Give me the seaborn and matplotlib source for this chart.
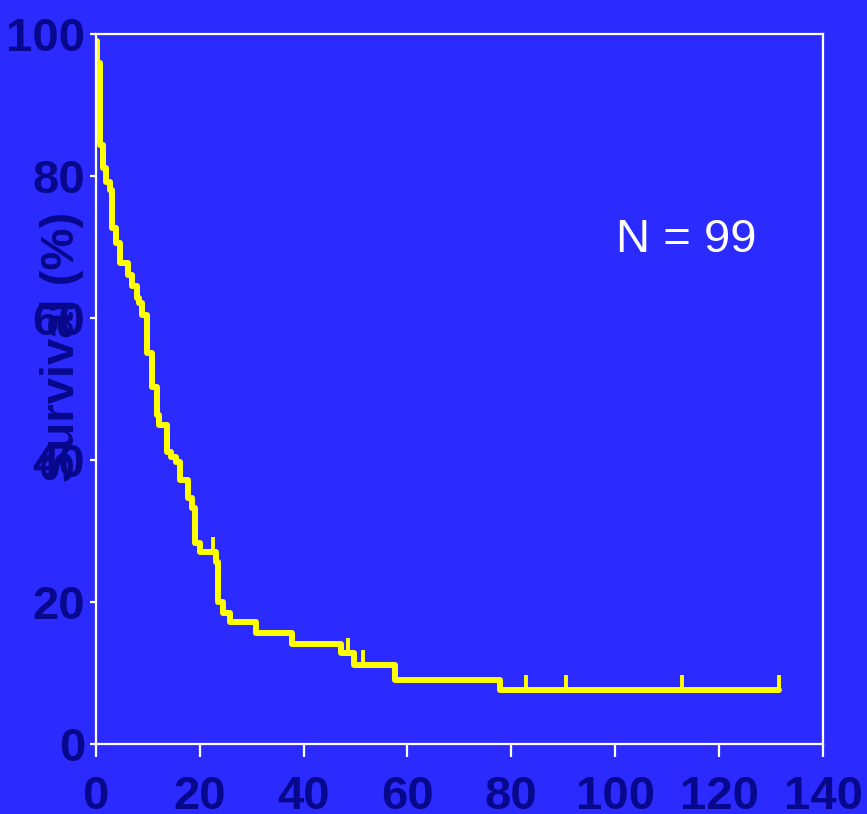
import matplotlib
matplotlib.use("Agg")
import matplotlib.pyplot as plt
from matplotlib.path import Path
import seaborn as sns
import pandas as pd

# Kaplan-Meier step data (months, survival %)
times = [0.0, 0.25, 0.8, 1.4, 2.0, 2.7, 3.1, 3.9, 4.7, 6.2, 6.9, 7.9, 8.3, 9.0,
         9.9, 10.8, 11.7, 12.2, 13.8, 14.5, 15.5, 16.3, 17.75, 18.5, 19.1, 20.1,
         23.1, 23.6, 24.5, 25.8, 30.8, 37.7, 47.3, 49.7, 57.6, 77.9, 131.6]
survival = [99.0, 95.9, 84.4, 81.1, 79.2, 78.0, 72.7, 70.6, 67.7, 66.1, 64.5, 62.8, 62.1, 60.4,
            55.1, 50.3, 46.3, 44.9, 41.2, 40.4, 39.7, 37.2, 34.6, 33.2, 28.3, 27.0,
            25.6, 20.0, 18.5, 17.2, 15.6, 14.1, 12.8, 11.1, 9.0, 7.6, 7.6]
censor_times = [22.6, 48.6, 51.5, 82.9, 90.6, 112.8, 131.6]
censor_surv = [27.0, 12.8, 11.1, 7.6, 7.6, 7.6, 7.6]
x_ticks = [0, 20, 40, 60, 80, 100, 120, 140]
y_ticks = [0, 20, 40, 60, 80, 100]
annotation = "N = 99"
y_label = "Survival (%)"

BG = "#2B2BFF"
NAVY = "#08088C"
YELLOW = "#FFFF00"

sns.set_style("ticks")
plt.rcParams["font.family"] = ["Liberation Sans", "DejaVu Sans"]

fig = plt.figure(figsize=(8.67, 8.14), dpi=100, facecolor=BG)
ax = fig.add_axes([0.1104, 0.086, 0.8389, 0.872])
ax.set_facecolor(BG)

df = pd.DataFrame({"t": times, "s": survival})
sns.lineplot(data=df, x="t", y="s", ax=ax, drawstyle="steps-post",
             estimator=None, sort=False, color=YELLOW, linewidth=4.3)

tick_marker = Path([(0, 0), (0, 1)], [Path.MOVETO, Path.LINETO])
ax.plot(censor_times, censor_surv, linestyle="none", marker=tick_marker,
        markersize=21, markeredgewidth=2.8, color=YELLOW)

ax.set_xlim(0, 140)
ax.set_ylim(0, 100)
ax.set_xticks(x_ticks)
ax.set_yticks(y_ticks)
ax.set_xticklabels([str(v) for v in x_ticks], fontsize=34, fontweight="bold", color=NAVY)
ax.set_yticklabels([str(v) for v in y_ticks], fontsize=34, fontweight="bold", color=NAVY)
ax.tick_params(axis="x", direction="out", length=9.5, width=1.6, color="white", pad=13)
ax.tick_params(axis="y", direction="out", length=4.5, width=1.6, color="white", pad=3)
ax.set_xlabel("")
ax.set_ylabel("")

for side in ["left", "right", "top", "bottom"]:
    ax.spines[side].set_visible(True)
    ax.spines[side].set_color("white")
    ax.spines[side].set_linewidth(1.6)

ax.text(-0.0457, 0.559, y_label, transform=ax.transAxes, rotation=90,
        ha="center", va="center", fontsize=34, fontweight="bold", color=NAVY)

ax.text(113.7, 69.3, annotation, ha="center", va="baseline",
        fontsize=34, color="white")

fig.savefig("out.png", dpi=100, facecolor=BG)
